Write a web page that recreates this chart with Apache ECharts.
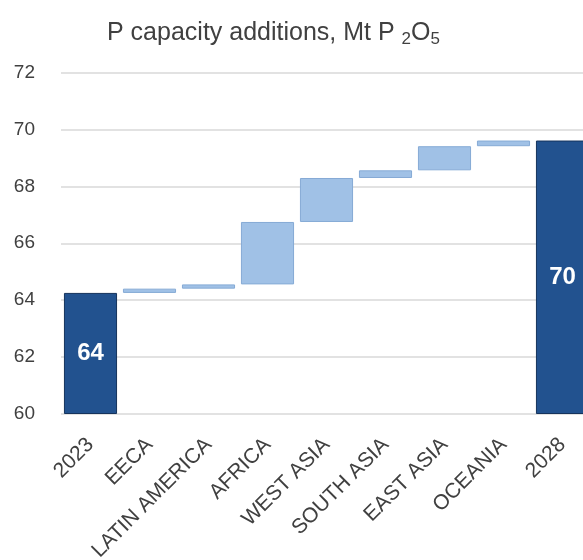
<!DOCTYPE html>
<html><head><meta charset="utf-8">
<script src="https://cdn.jsdelivr.net/npm/echarts@6/dist/echarts.min.js"></script>
<style>html,body{margin:0;padding:0;background:#fff;overflow:hidden}#c{width:592px;height:560px}</style>
</head><body><div id="c"></div>
<script>
const categories = ['2023','EECA','LATIN AMERICA','AFRICA','WEST ASIA','SOUTH ASIA','EAST ASIA','OCEANIA','2028'];
const startValue = 64.25;
const increments = [0.15, 0.15, 2.2, 1.55, 0.27, 0.85, 0.2];
const endValue = 69.62;
const yTicks = {min: 60, max: 72, interval: 2};

const base = [], delta = [], totals = [];
let cum = startValue;
categories.forEach((c, i) => {
  if (i === 0) { base.push('-'); delta.push('-'); totals.push(startValue); }
  else if (i === categories.length - 1) { base.push('-'); delta.push('-'); totals.push(endValue); }
  else { base.push(cum); delta.push(increments[i-1]); totals.push('-'); cum += increments[i-1]; }
});

const chart = echarts.init(document.getElementById('c'));
chart.setOption({
  animation: false,
  title: {
    text: 'P capacity additions, Mt P {s|2}O{s|5}',
    left: 107, top: 19, padding: 0,
    textStyle: {fontFamily: 'Liberation Sans', fontSize: 25, fontWeight: 'normal', color: '#404040',
      rich: {s: {fontSize: 17, fontFamily: 'Liberation Sans', color: '#404040', padding: [12,0,0,0]}}}
  },
  grid: {left: 61, top: 73, right: 0, height: 340.5, containLabel: false, outerBoundsMode: 'none'},
  xAxis: {
    type: 'category', data: categories,
    axisLine: {show: false}, axisTick: {show: false},
    axisLabel: {rotate: 45, interval: 0, fontSize: 21, color: '#404040', fontFamily: 'Liberation Sans', margin: 28}
  },
  yAxis: {
    type: 'value', min: yTicks.min, max: yTicks.max, interval: yTicks.interval,
    axisLine: {show: false}, axisTick: {show: false},
    axisLabel: {fontSize: 19, color: '#404040', fontFamily: 'Liberation Sans', margin: 26},
    splitLine: {lineStyle: {color: '#d9d9d9', width: 1.5}}
  },
  series: [
    {type: 'bar', stack: 'w', data: base, barCategoryGap: '10%', itemStyle: {color: 'transparent'}, silent: true},
    {type: 'bar', stack: 'w', data: delta, itemStyle: {color: '#A0C1E6', borderColor: '#86ABD6', borderWidth: 1}},
    {type: 'bar', stack: 'w', data: totals, itemStyle: {color: '#22528F', borderColor: '#15335c', borderWidth: 1},
     label: {show: true, position: 'inside', color: '#fff', fontSize: 24, fontWeight: 'bold', fontFamily: 'Liberation Sans',
       formatter: p => Math.round(p.value)}}
  ]
});
</script></body></html>
